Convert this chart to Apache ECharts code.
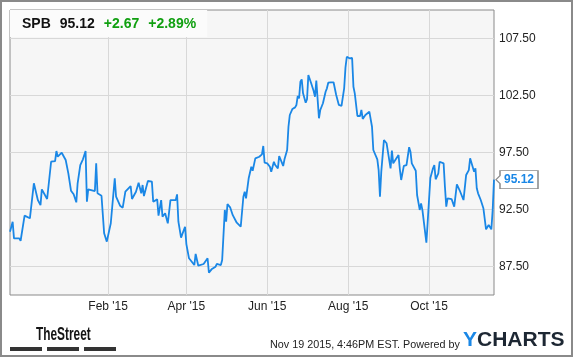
<!DOCTYPE html>
<html>
<head>
<meta charset="utf-8">
<script src="https://cdn.jsdelivr.net/npm/echarts@6/dist/echarts.min.js"></script>
<style>
html,body{margin:0;padding:0;background:#fff;}
#c{width:575px;height:358px;}
</style>
</head>
<body>
<div id="c"></div>
<script>
// ---- data ----
const ticker = 'SPB';
const lastPrice = '95.12';
const change = '+2.67';
const changePct = '+2.89%';
const footerText = 'Nov 19 2015, 4:46PM EST. Powered by';
const xRange = ['2014-11-19', '2015-11-19'];
const xTickDates = ['2015-02-01', '2015-04-01', '2015-06-01', '2015-08-01', '2015-10-01'];
const yTicks = [87.5, 92.5, 97.5, 102.5, 107.5];
const yRange = [85, 110];
const dates = [
'2014-11-19','2014-11-21','2014-11-22','2014-11-26','2014-11-27','2014-11-30','2014-12-04','2014-12-05','2014-12-07','2014-12-10',
'2014-12-11','2014-12-12','2014-12-13','2014-12-14','2014-12-17','2014-12-20','2014-12-23','2014-12-24','2014-12-25','2014-12-28',
'2014-12-31','2015-01-02','2015-01-04','2015-01-06','2015-01-08','2015-01-09','2015-01-11','2015-01-13','2015-01-15','2015-01-16',
'2015-01-17','2015-01-22','2015-01-23','2015-01-24','2015-01-27','2015-01-29','2015-01-30','2015-01-31','2015-02-03','2015-02-06',
'2015-02-07','2015-02-10','2015-02-12','2015-02-14','2015-02-18','2015-02-19','2015-02-22','2015-02-24','2015-02-26','2015-02-27',
'2015-02-28','2015-03-03','2015-03-06','2015-03-07','2015-03-10','2015-03-11','2015-03-13','2015-03-14','2015-03-16','2015-03-18',
'2015-03-20','2015-03-24','2015-03-25','2015-03-26','2015-03-28','2015-03-31','2015-04-01','2015-04-03','2015-04-07','2015-04-08',
'2015-04-10','2015-04-14','2015-04-15','2015-04-17','2015-04-18','2015-04-20','2015-04-21','2015-04-23','2015-04-24','2015-04-27',
'2015-04-28','2015-04-30','2015-05-01','2015-05-02','2015-05-04','2015-05-06','2015-05-09','2015-05-12','2015-05-14','2015-05-15',
'2015-05-16','2015-05-18','2015-05-20','2015-05-21','2015-05-23','2015-05-26','2015-05-28','2015-05-29','2015-05-30','2015-06-01',
'2015-06-03','2015-06-04','2015-06-06','2015-06-07','2015-06-09','2015-06-10','2015-06-11','2015-06-13','2015-06-14','2015-06-16',
'2015-06-17','2015-06-18','2015-06-20','2015-06-22','2015-06-23','2015-06-24','2015-06-25','2015-06-26','2015-06-27','2015-06-28',
'2015-06-30','2015-07-01','2015-07-02','2015-07-04','2015-07-06','2015-07-07','2015-07-08','2015-07-10','2015-07-11','2015-07-13',
'2015-07-15','2015-07-16','2015-07-17','2015-07-19','2015-07-21','2015-07-22','2015-07-23','2015-07-24','2015-07-25','2015-07-27',
'2015-07-28','2015-07-29','2015-07-30','2015-07-31','2015-08-02','2015-08-04','2015-08-05','2015-08-06','2015-08-08','2015-08-10',
'2015-08-11','2015-08-12','2015-08-14','2015-08-17','2015-08-19','2015-08-20','2015-08-21','2015-08-23','2015-08-24','2015-08-25',
'2015-08-26','2015-08-28','2015-08-30','2015-09-02','2015-09-03','2015-09-04','2015-09-08','2015-09-09','2015-09-10','2015-09-12',
'2015-09-14','2015-09-16','2015-09-17','2015-09-18','2015-09-21','2015-09-22','2015-09-24','2015-09-25','2015-09-26','2015-09-29',
'2015-09-30','2015-10-02','2015-10-04','2015-10-05','2015-10-06','2015-10-08','2015-10-09','2015-10-12','2015-10-13','2015-10-14',
'2015-10-15','2015-10-18','2015-10-20','2015-10-21','2015-10-22','2015-10-24','2015-10-27','2015-10-28','2015-10-29','2015-10-31',
'2015-11-01','2015-11-04','2015-11-05','2015-11-06','2015-11-07','2015-11-09','2015-11-10','2015-11-11','2015-11-13','2015-11-15',
'2015-11-16','2015-11-17','2015-11-18','2015-11-19'
];
const prices = [
90.55,91.43,89.97,89.97,89.76,91.96,91.73,91.87,94.80,93.33,
93.48,92.89,94.27,94.36,93.42,96.69,96.75,97.63,97.13,97.48,
96.84,95.67,94.15,93.83,93.13,94.80,96.40,96.90,97.63,93.18,
94.27,94.12,96.55,93.92,93.71,90.41,90.55,89.68,91.29,95.24,
93.62,92.83,92.66,94.06,94.56,93.42,94.06,94.85,93.92,94.65,
93.68,95.00,94.94,93.18,93.39,91.96,93.33,91.87,92.17,91.29,
93.33,93.33,93.83,91.43,90.03,90.99,89.47,88.22,87.63,88.60,
87.57,87.72,87.57,88.22,86.96,87.25,87.39,87.48,87.72,87.63,
88.07,92.46,91.43,92.98,92.69,92.00,91.34,90.99,93.62,94.06,
93.48,95.24,96.25,95.90,96.99,97.13,97.34,98.07,96.61,96.55,
96.25,95.82,96.69,96.40,96.11,97.19,97.13,96.32,96.90,97.72,
99.76,100.79,101.32,101.46,101.67,102.46,102.25,103.71,103.92,102.69,
101.87,102.17,104.30,103.62,102.89,102.39,103.80,100.50,101.23,101.82,
102.83,103.13,103.62,103.66,103.66,103.80,102.54,102.48,101.67,101.58,
101.52,103.13,104.97,105.90,105.76,105.79,103.27,102.69,100.70,100.70,
101.23,100.44,100.79,101.08,99.76,97.72,97.87,96.90,95.96,93.62,
95.82,98.60,98.31,96.11,97.66,96.55,97.28,96.03,95.09,96.32,
96.40,97.96,97.57,96.55,95.90,93.77,92.46,93.04,92.46,89.59,
91.43,95.26,96.11,96.40,95.15,95.67,96.69,96.55,94.50,92.75,
93.48,93.42,92.75,92.75,94.71,94.21,93.33,93.18,95.53,95.96,
96.99,95.82,96.11,94.36,93.92,93.33,93.48,92.61,90.76,91.14,
91.29,90.76,92.45,95.12
];

// ---- helpers ----
const MONTHS = ['Jan','Feb','Mar','Apr','May','Jun','Jul','Aug','Sep','Oct','Nov','Dec'];
function toTime(s){ const p = s.split('-').map(Number); return new Date(p[0], p[1]-1, p[2]).getTime(); }
const seriesData = dates.map((d,i)=>[toTime(d), prices[i]]);
const tickTimes = xTickDates.map(toTime);
const BLUE = '#1a87e6';
const GREEN = '#11a011';
const FONT = 'Arial, "Liberation Sans", sans-serif';

const chart = echarts.init(document.getElementById('c'), null, {renderer:'canvas'});
chart.setOption({
  animation: false,
  backgroundColor: '#ffffff',
  textStyle: { fontFamily: FONT },
  grid: { left: 10, right: 81, top: 10, bottom: 63, show: true, backgroundColor: '#f6f6f6', borderColor: '#8a8a8a', borderWidth: 1, containLabel: false },
  title: {
    left: 10, top: 10,
    padding: [7, 11, 6, 12],
    backgroundColor: '#fbfbfb',
    text: '{a|' + ticker + '}{s| }{a|' + lastPrice + '}{s| }{c|' + change + '}{s| }{c|' + changePct + '}',
    textStyle: {
      rich: {
        a: { fontFamily: FONT, fontWeight: 'bold', fontSize: 14, color: '#111' },
        c: { fontFamily: FONT, fontWeight: 'bold', fontSize: 14, color: GREEN },
        s: { fontFamily: FONT, fontSize: 14, width: 9 }
      }
    }
  },
  xAxis: {
    type: 'value',
    min: toTime(xRange[0]), max: toTime(xRange[1]),
    axisLine: { show: false },
    axisTick: { show: false, customValues: tickTimes },
    splitLine: { show: true, lineStyle: { color: '#d8d8d8', width: 1 } },
    axisLabel: {
      customValues: tickTimes,
      color: '#222', fontSize: 12, fontFamily: FONT, margin: 6,
      formatter: function(v){ const d = new Date(v); return MONTHS[d.getMonth()] + " '" + String(d.getFullYear()).slice(2); }
    }
  },
  yAxis: {
    type: 'value', position: 'right',
    min: yRange[0], max: yRange[1], interval: 2.5,
    axisLine: { show: false }, axisTick: { show: false },
    splitLine: { show: true, lineStyle: { color: ['rgba(0,0,0,0)', '#d8d8d8'], width: 1 } },
    axisLabel: {
      color: '#222', fontSize: 12, fontFamily: FONT, margin: 5,
      formatter: function(v){ return yTicks.indexOf(v) >= 0 ? v.toFixed(2) : ''; }
    }
  },
  series: [{
    type: 'line',
    data: seriesData,
    showSymbol: false, symbol: 'none',
    lineStyle: { color: BLUE, width: 1.8 },
    markPoint: {
      silent: true,
      symbol: 'path://M0,9L4,5L4,0L42,0L42,18L4,18L4,13Z',
      symbolSize: [42, 18],
      symbolKeepAspect: false,
      symbolOffset: [23, 0],
      itemStyle: { color: '#ffffff', borderColor: '#8a8a8a', borderWidth: 1 },
      label: { show: true, position: 'inside', offset: [2, 0], color: BLUE, fontWeight: 'bold', fontSize: 12, fontFamily: FONT, formatter: lastPrice },
      data: [{ coord: seriesData[seriesData.length-1], value: prices[prices.length-1] }]
    }
  }],
  graphic: [
    { type: 'rect', shape: { x: 1, y: 1, width: 571, height: 355 }, style: { fill: 'none', stroke: '#8a8a8a', lineWidth: 2 }, silent: true },
    { type: 'text', x: 36, y: 326, scaleX: 0.66, style: { text: 'TheStreet', font: 'bold 18px Arial, "Liberation Sans"', fill: '#141414' } },
    { type: 'rect', shape: { x: 10, y: 347, width: 32, height: 4 }, style: { fill: '#333' } },
    { type: 'rect', shape: { x: 47, y: 347, width: 32, height: 4 }, style: { fill: '#333' } },
    { type: 'rect', shape: { x: 84, y: 347, width: 32, height: 4 }, style: { fill: '#333' } },
    { type: 'text', x: 270, y: 339, scaleX: 0.98, style: { text: footerText, font: '11px Arial, "Liberation Sans", sans-serif', fill: '#222' } },
    { type: 'text', x: 463, y: 330, style: { text: '{y|Y}{c|CHARTS}', rich: { y: { font: 'bold 21px Arial, "Liberation Sans"', fill: BLUE, color: BLUE }, c: { font: 'bold 21px Arial, "Liberation Sans"', fill: '#1d2733', color: '#1d2733' } } } }
  ]
});
</script>
</body>
</html>
